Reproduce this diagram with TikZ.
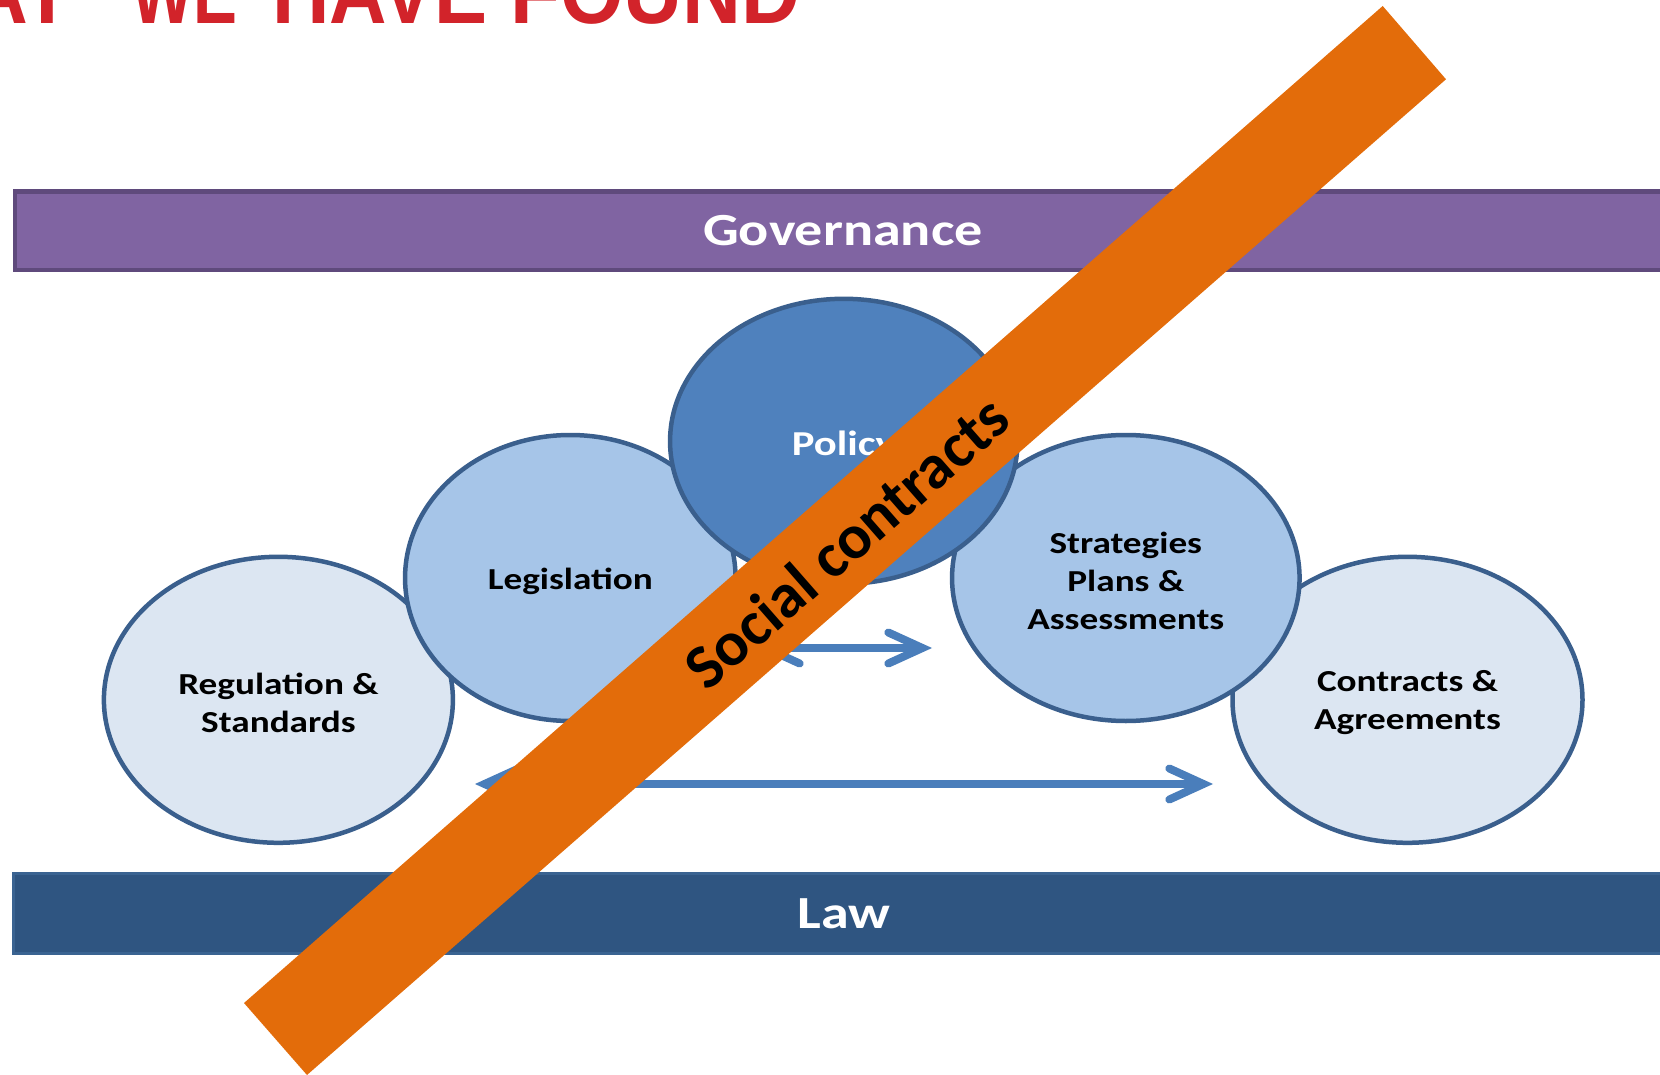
\documentclass[tikz,border=0pt]{standalone}
\usepackage{fontspec}
\usepackage{graphicx}
\setmainfont{Carlito}[FakeStretch=1.22]
\newfontfamily\plainfont{Carlito}
\newfontfamily\titlefont{Liberation Sans}
\usetikzlibrary{arrows.meta,shapes.geometric}
\definecolor{titlered}{HTML}{D2232A}
\definecolor{govfill}{HTML}{8064A2}
\definecolor{govline}{HTML}{5F4A7C}
\definecolor{lawfill}{HTML}{2F5581}
\definecolor{lawline}{HTML}{3A6391}
\definecolor{palefill}{HTML}{DCE6F2}
\definecolor{midfill}{HTML}{A6C5E8}
\definecolor{darkfill}{HTML}{4F81BD}
\definecolor{ellline}{HTML}{3A5F8D}
\definecolor{arrowblue}{HTML}{4A7EBB}
\definecolor{orangebar}{HTML}{E36C0A}
\tikzset{
  titleword/.style={inner sep=0pt, anchor=base west, text=titlered, font=\titlefont\bfseries},
  barbox/.style={rectangle, inner sep=0pt, text=white, font=\fontsize{46}{50}\selectfont\bfseries},
  ellbox/.style={ellipse, inner sep=0pt, draw=ellline, line width=4.5pt},
  pale/.style={ellbox, fill=palefill},
  mid/.style={ellbox, fill=midfill},
  dark/.style={ellbox, fill=darkfill},
  etext/.style={inner sep=0pt, align=center, yshift=-3pt, font=\fontsize{30.5}{38}\selectfont\bfseries},
  flowarrow/.style={draw=arrowblue, line width=8pt,
     {Straight Barb[length=34pt,width=31pt,line cap=round]}-{Straight Barb[length=34pt,width=31pt,line cap=round]}},
}
\begin{document}
\begin{tikzpicture}[x=1pt,y=-1pt]
\useasboundingbox (0,0) rectangle (1660,1075);
\clip (0,0) rectangle (1660,1075);

% title (cut off at the top)
\node[titleword, anchor=base east] (t1) at (72,24) {\resizebox{238pt}{62pt}{WHAT}};
\node[titleword] (t2) at (131,24) {\resizebox{106pt}{62pt}{WE}};
\node[titleword] (t3) at (272,24) {\resizebox{215pt}{62pt}{HAVE}};
\node[titleword] (t4) at (510,24) {\resizebox{290pt}{62pt}{FOUND}};

% bars
\node[barbox, fill=govfill, draw=govline, line width=4.5pt,
      minimum width=1656pt, minimum height=78.5pt] (gov) at (843,231) {Governance};
\node[barbox, fill=lawfill, draw=lawline, line width=3pt,
      minimum width=1661pt, minimum height=80pt] (law) at (844,913.5) {Law};

% ellipses
\node[pale, minimum width=349pt, minimum height=286pt] (reg) at (278.4,699.8) {};
\node[pale, minimum width=350pt, minimum height=286pt] (con) at (1407.5,699.8) {};
\node[mid, minimum width=330.5pt, minimum height=286pt] (leg) at (570.3,578) {};
\node[mid, minimum width=347.5pt, minimum height=286pt] (str) at (1125.8,578) {};
\node[dark, minimum width=347.5pt, minimum height=285pt] (pol) at (843.8,441.3) {};

\node[etext] (reg-t) at (reg.center) {Regulation \&\\Standards};
\node[etext] (con-t) at (con.center) {Contracts \&\\Agreements};
\node[etext] (leg-t) at (leg.center) {Legislation};
\node[etext] (str-t) at (str.center) {Strategies\\Plans \&\\Assessments};
\node[etext, text=white, yshift=-1.5pt, font=\fontsize{35}{40}\selectfont\bfseries] (pol-t) at (pol.center) {Policy};

% arrows
\coordinate (a1s) at (756,648);
\coordinate (a1e) at (932,648);
\coordinate (a2s) at (475,784);
\coordinate (a2e) at (1213,784);
\draw[flowarrow] (a1s) -- (a1e);
\draw[flowarrow] (a2s) -- (a2e);

% orange band
\fill[orangebar] (1382.7,6) -- (1446,79.3) -- (307,1075) -- (244,1003) -- cycle;
\node[rotate=41.2, inner sep=0pt, font=\plainfont\fontsize{63}{70}\selectfont\bfseries] (social) at (846,542) {Social contracts};
\end{tikzpicture}
\end{document}
